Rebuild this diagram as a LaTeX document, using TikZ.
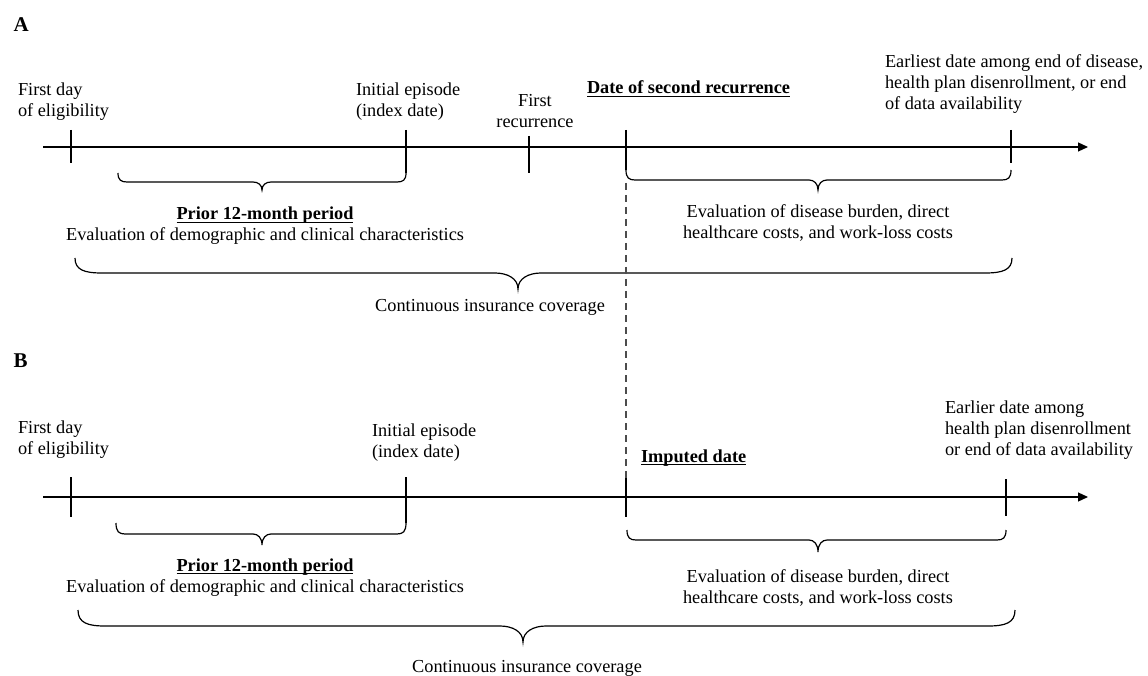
\documentclass[tikz,border=0pt]{standalone}
\usepackage{fontspec}
\setmainfont{Liberation Serif}
\usetikzlibrary{arrows.meta}
\newcommand\myul[1]{\setbox0\hbox{#1}\rlap{\rule[-3pt]{\wd0}{1.1pt}}\box0}
% braces: x1 x2 xtip ytop h d r r2
\newcommand\tlbrace[8]{%
\draw[brc] (#1,#4) .. controls (#1,{#4+0.8*#5}) and ({#1+0.35*#7},{#4+#5}) .. ({#1+#7},{#4+#5})
  -- ({#3-#8},{#4+#5}) .. controls ({#3-0.45*#8},{#4+#5}) and (#3,{#4+#5+0.35*#6}) .. (#3,{#4+#5+#6})
  .. controls (#3,{#4+#5+0.35*#6}) and ({#3+0.45*#8},{#4+#5}) .. ({#3+#8},{#4+#5})
  -- ({#2-#7},{#4+#5}) .. controls ({#2-0.35*#7},{#4+#5}) and (#2,{#4+0.8*#5}) .. (#2,#4);}
\begin{document}
\begin{tikzpicture}[x=1pt,y=-1pt,
  line width=1.2pt,
  txt/.style={font=\fontsize{18.3}{21}\selectfont, inner sep=0pt, outer sep=0pt},
  lft/.style={txt, align=left, anchor=base west},
  ctr/.style={txt, align=center, anchor=base},
  panel/.style={font=\bfseries\fontsize{21}{21}\selectfont, inner sep=0pt, anchor=base west},
  tline/.style={line width=1.2pt, -{Triangle[length=10pt,width=9pt]}},
  tick/.style={line width=1.2pt},
  brc/.style={line width=1.2pt},
  dsh/.style={line width=1.1pt, black!70, dash pattern=on 7pt off 5pt}]
\useasboundingbox (0,0) rectangle (1148,676);

% ---------------- Panel A ----------------
\node[panel] (labA) at (13,32) {A};
\coordinate (As) at (43,147);
\coordinate (Ae) at (1088,147);
\draw[tline] (As) -- (Ae);
\draw[tick] (71,130) -- (71,163);
\draw[tick] (406,130) -- (406,173);
\draw[tick] (529,136) -- (529,173);
\draw[tick] (626,130) -- (626,170);
\draw[tick] (1011,130) -- (1011,163);

% (multi-line nodes: base = baseline of last line)
\node[lft] (Afirst) at (18,117) {First day\\of eligibility};
\node[lft] (Ainit) at (356,117) {Initial episode\\(index date)};
\node[ctr] (Afrec) at (535,128) {First\\recurrence};
\node[lft] (Asec) at (587,94) {\bfseries\myul{Date of second recurrence}};
\node[lft] (Aend) at (885,110) {Earliest date among end of disease,\\health plan disenrollment, or end\\of data availability};

\tlbrace{118}{406}{262}{173}{9}{8}{9}{9}
\tlbrace{626}{1011}{818}{170}{10}{10}{9}{9}
\tlbrace{75}{1012}{518}{258}{15}{16}{27}{23}

\node[ctr] (Aprior) at (265,241) {\bfseries\myul{Prior 12-month period}\\Evaluation of demographic and clinical characteristics};
\node[ctr] (Aeval) at (818,239) {Evaluation of disease burden, direct\\healthcare costs, and work-loss costs};
\node[ctr] (Acont) at (490,312) {Continuous insurance coverage};

% dashed link between panels
\coordinate (d1) at (626,183);
\coordinate (d2) at (626,478);
\draw[dsh] (d1) -- (d2);

% ---------------- Panel B ----------------
\node[panel] (labB) at (13,367) {B};
\coordinate (Bs) at (43,497);
\coordinate (Be) at (1088,497);
\draw[tline] (Bs) -- (Be);
\draw[tick] (71,477) -- (71,517);
\draw[tick] (406,477) -- (406,523);
\draw[tick] (626,478) -- (626,517);
\draw[tick] (1006,479) -- (1006,516);

\node[lft] (Bfirst) at (18,454) {First day\\of eligibility};
\node[lft] (Binit) at (372,457) {Initial episode\\(index date)};
\node[lft] (Bimp) at (641,462) {\bfseries\myul{Imputed date}};
\node[lft] (Bend) at (945,455) {Earlier date among\\health plan disenrollment\\or end of data availability};

\tlbrace{116}{406}{262}{523}{11}{11}{9}{9}
\tlbrace{627}{1006}{818}{530}{10}{12}{9}{9}
\tlbrace{78}{1015}{523}{610}{16}{16}{27}{23}

\node[ctr] (Bprior) at (265,592) {\bfseries\myul{Prior 12-month period}\\Evaluation of demographic and clinical characteristics};
\node[ctr] (Beval) at (818,603) {Evaluation of disease burden, direct\\healthcare costs, and work-loss costs};
\node[ctr] (Bcont) at (527,672) {Continuous insurance coverage};
\end{tikzpicture}
\end{document}
